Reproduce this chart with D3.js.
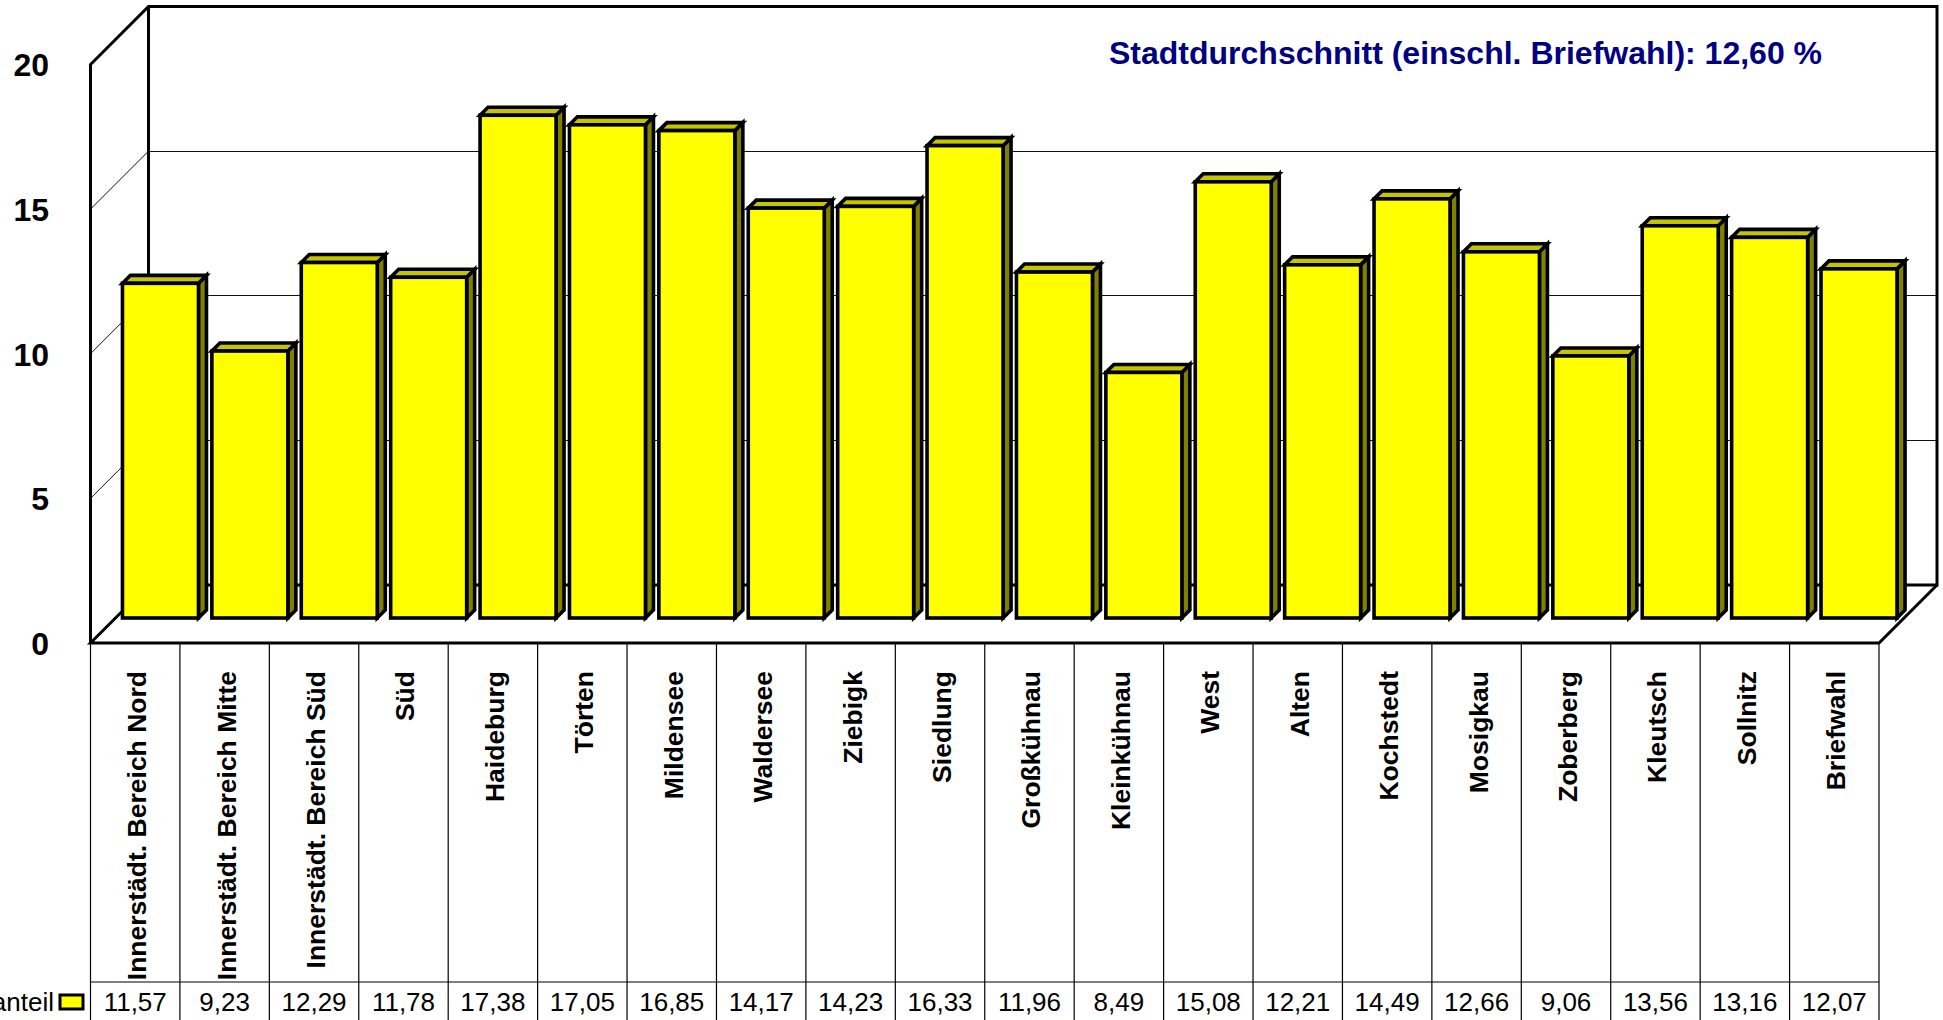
<!DOCTYPE html>
<html>
<head>
<meta charset="utf-8">
<script src="https://cdnjs.cloudflare.com/ajax/libs/d3/7.8.5/d3.min.js"></script>
<style>
  html, body { margin: 0; background: #fff; overflow: hidden; }
  svg { display: block; }
  text { font-family: "Liberation Sans", Arial, sans-serif; fill: #000; }
</style>
</head>
<body>
<svg width="1943" height="1020"></svg>
<script>
const categories = ["Innerstädt. Bereich Nord", "Innerstädt. Bereich Mitte", "Innerstädt. Bereich Süd", "Süd", "Haideburg", "Törten", "Mildensee", "Waldersee", "Ziebigk", "Siedlung", "Großkühnau", "Kleinkühnau", "West", "Alten", "Kochstedt", "Mosigkau", "Zoberberg", "Kleutsch", "Sollnitz", "Briefwahl"];
const values = [11.57, 9.23, 12.29, 11.78, 17.38, 17.05, 16.85, 14.17, 14.23, 16.33, 11.96, 8.49, 15.08, 12.21, 14.49, 12.66, 9.06, 13.56, 13.16, 12.07];
const yTicks = [0, 5, 10, 15, 20];
const title = "Stadtdurchschnitt (einschl. Briefwahl): 12,60 %";
const seriesLabel = "anteil";

const svg = d3.select("svg");

const left = 90.5, right = 1879, yBase = 643, yTop = 64.5;
const wallDepth = 58;   // offset of back wall
const barInset = 25;    // bars stand this far into the floor
const barDepth = 8;
const tableBottom = 1020, rowY = 982;

const x = d3.scaleBand().domain(categories).range([left, right]);
const barX = d3.scaleBand().domain(categories).range([left, right]).paddingInner(0.15).paddingOuter(0.078);
const y = d3.scaleLinear().domain([0, 20]).range([yBase, yTop]);
const fmt = d3.formatLocale({ decimal: ",", thousands: ".", grouping: [3], currency: ["", ""] }).format(".2f");

// walls: grid lines first, then the heavy frame on top
const grid = svg.append("g").attr("stroke", "#111").attr("stroke-width", 1).attr("fill", "none");
yTicks.slice(1, -1).forEach(t => {
  grid.append("path").attr("d", d3.line()([
    [left, y(t)],
    [left + wallDepth, y(t) - wallDepth]
  ]));
  grid.append("path").attr("shape-rendering", "crispEdges").attr("d", d3.line()([
    [left + wallDepth, y(t) - wallDepth],
    [right + wallDepth, y(t) - wallDepth]
  ]));
});

const frame = svg.append("g").attr("stroke", "#000").attr("stroke-width", 3).attr("fill", "none");
frame.append("path").attr("d", d3.line()([
  [left, yBase],
  [left, y(20)],
  [left + wallDepth, y(20) - wallDepth],
  [right + wallDepth, y(20) - wallDepth],
  [right + wallDepth, yBase - wallDepth],
  [left + wallDepth, yBase - wallDepth]
]));
frame.append("path").attr("d", d3.line()([[left + wallDepth, y(20) - wallDepth], [left + wallDepth, yBase - wallDepth]]));
frame.append("path").attr("d", d3.line()([
  [left + wallDepth, yBase - wallDepth],
  [left, yBase],
  [right, yBase],
  [right + wallDepth, yBase - wallDepth]
]));

// bars
const bars = svg.append("g").selectAll("g").data(categories).join("g")
  .attr("stroke", "#000").attr("stroke-width", 3.6).attr("stroke-linejoin", "miter");

const x0 = c => barX(c) + barInset;
const x1 = c => x0(c) + barX.bandwidth();
const yB = yBase - barInset;
const yV = i => yB - (yBase - y(values[i]));

bars.append("path").attr("fill", "#808000").attr("d", (c, i) => d3.line()([
  [x1(c), yV(i)], [x1(c) + barDepth, yV(i) - barDepth], [x1(c) + barDepth, yB - barDepth], [x1(c), yB]
]) + "Z");
bars.append("path").attr("fill", "#c4c400").attr("d", (c, i) => d3.line()([
  [x0(c), yV(i)], [x0(c) + barDepth, yV(i) - barDepth], [x1(c) + barDepth, yV(i) - barDepth], [x1(c), yV(i)]
]) + "Z");
bars.append("rect").attr("fill", "#ffff00")
  .attr("x", x0).attr("width", barX.bandwidth())
  .attr("y", (c, i) => yV(i)).attr("height", (c, i) => yB - yV(i));

// y axis labels
const yAxisG = svg.append("g").attr("transform", "translate(49,1)")
  .call(d3.axisLeft(y).tickValues(yTicks).tickSize(0).tickPadding(0));
yAxisG.select(".domain").remove();
yAxisG.selectAll("text").style("font-family", "'Liberation Sans', Arial, sans-serif")
  .style("font-size", "32px").style("font-weight", "bold").attr("x", 0);

// data table under the plot
const table = svg.append("g").attr("stroke", "#000").attr("stroke-width", 1.2);
table.selectAll("line.v").data(categories.concat(["end"])).join("line").attr("class", "v")
  .attr("x1", (c, i) => left + i * x.step()).attr("x2", (c, i) => left + i * x.step())
  .attr("y1", yBase).attr("y2", tableBottom);
table.append("line").attr("x1", left).attr("x2", right).attr("y1", rowY).attr("y2", rowY);

svg.append("g").selectAll("text").data(categories).join("text")
  .attr("transform", c => `translate(${x(c) + x.bandwidth() / 2 + 11},671) rotate(-90)`)
  .attr("text-anchor", "end")
  .style("font-size", "26.5px").style("font-weight", "bold")
  .text(c => c);

svg.append("g").selectAll("text").data(values).join("text")
  .attr("x", (v, i) => x(categories[i]) + x.bandwidth() / 2)
  .attr("y", 1011)
  .attr("text-anchor", "middle")
  .style("font-size", "26px")
  .text(v => fmt(v));

// legend key
svg.append("text").attr("x", 54).attr("y", 1011).attr("text-anchor", "end")
  .style("font-size", "26px").text(seriesLabel);
svg.append("rect").attr("x", 60).attr("y", 995).attr("width", 23).attr("height", 14)
  .attr("fill", "#ffff00").attr("stroke", "#000").attr("stroke-width", 3);

svg.append("text").attr("x", 1109).attr("y", 64)
  .style("font-size", "32px").style("font-weight", "bold").style("fill", "#000080")
  .text(title);
</script>
</body>
</html>
